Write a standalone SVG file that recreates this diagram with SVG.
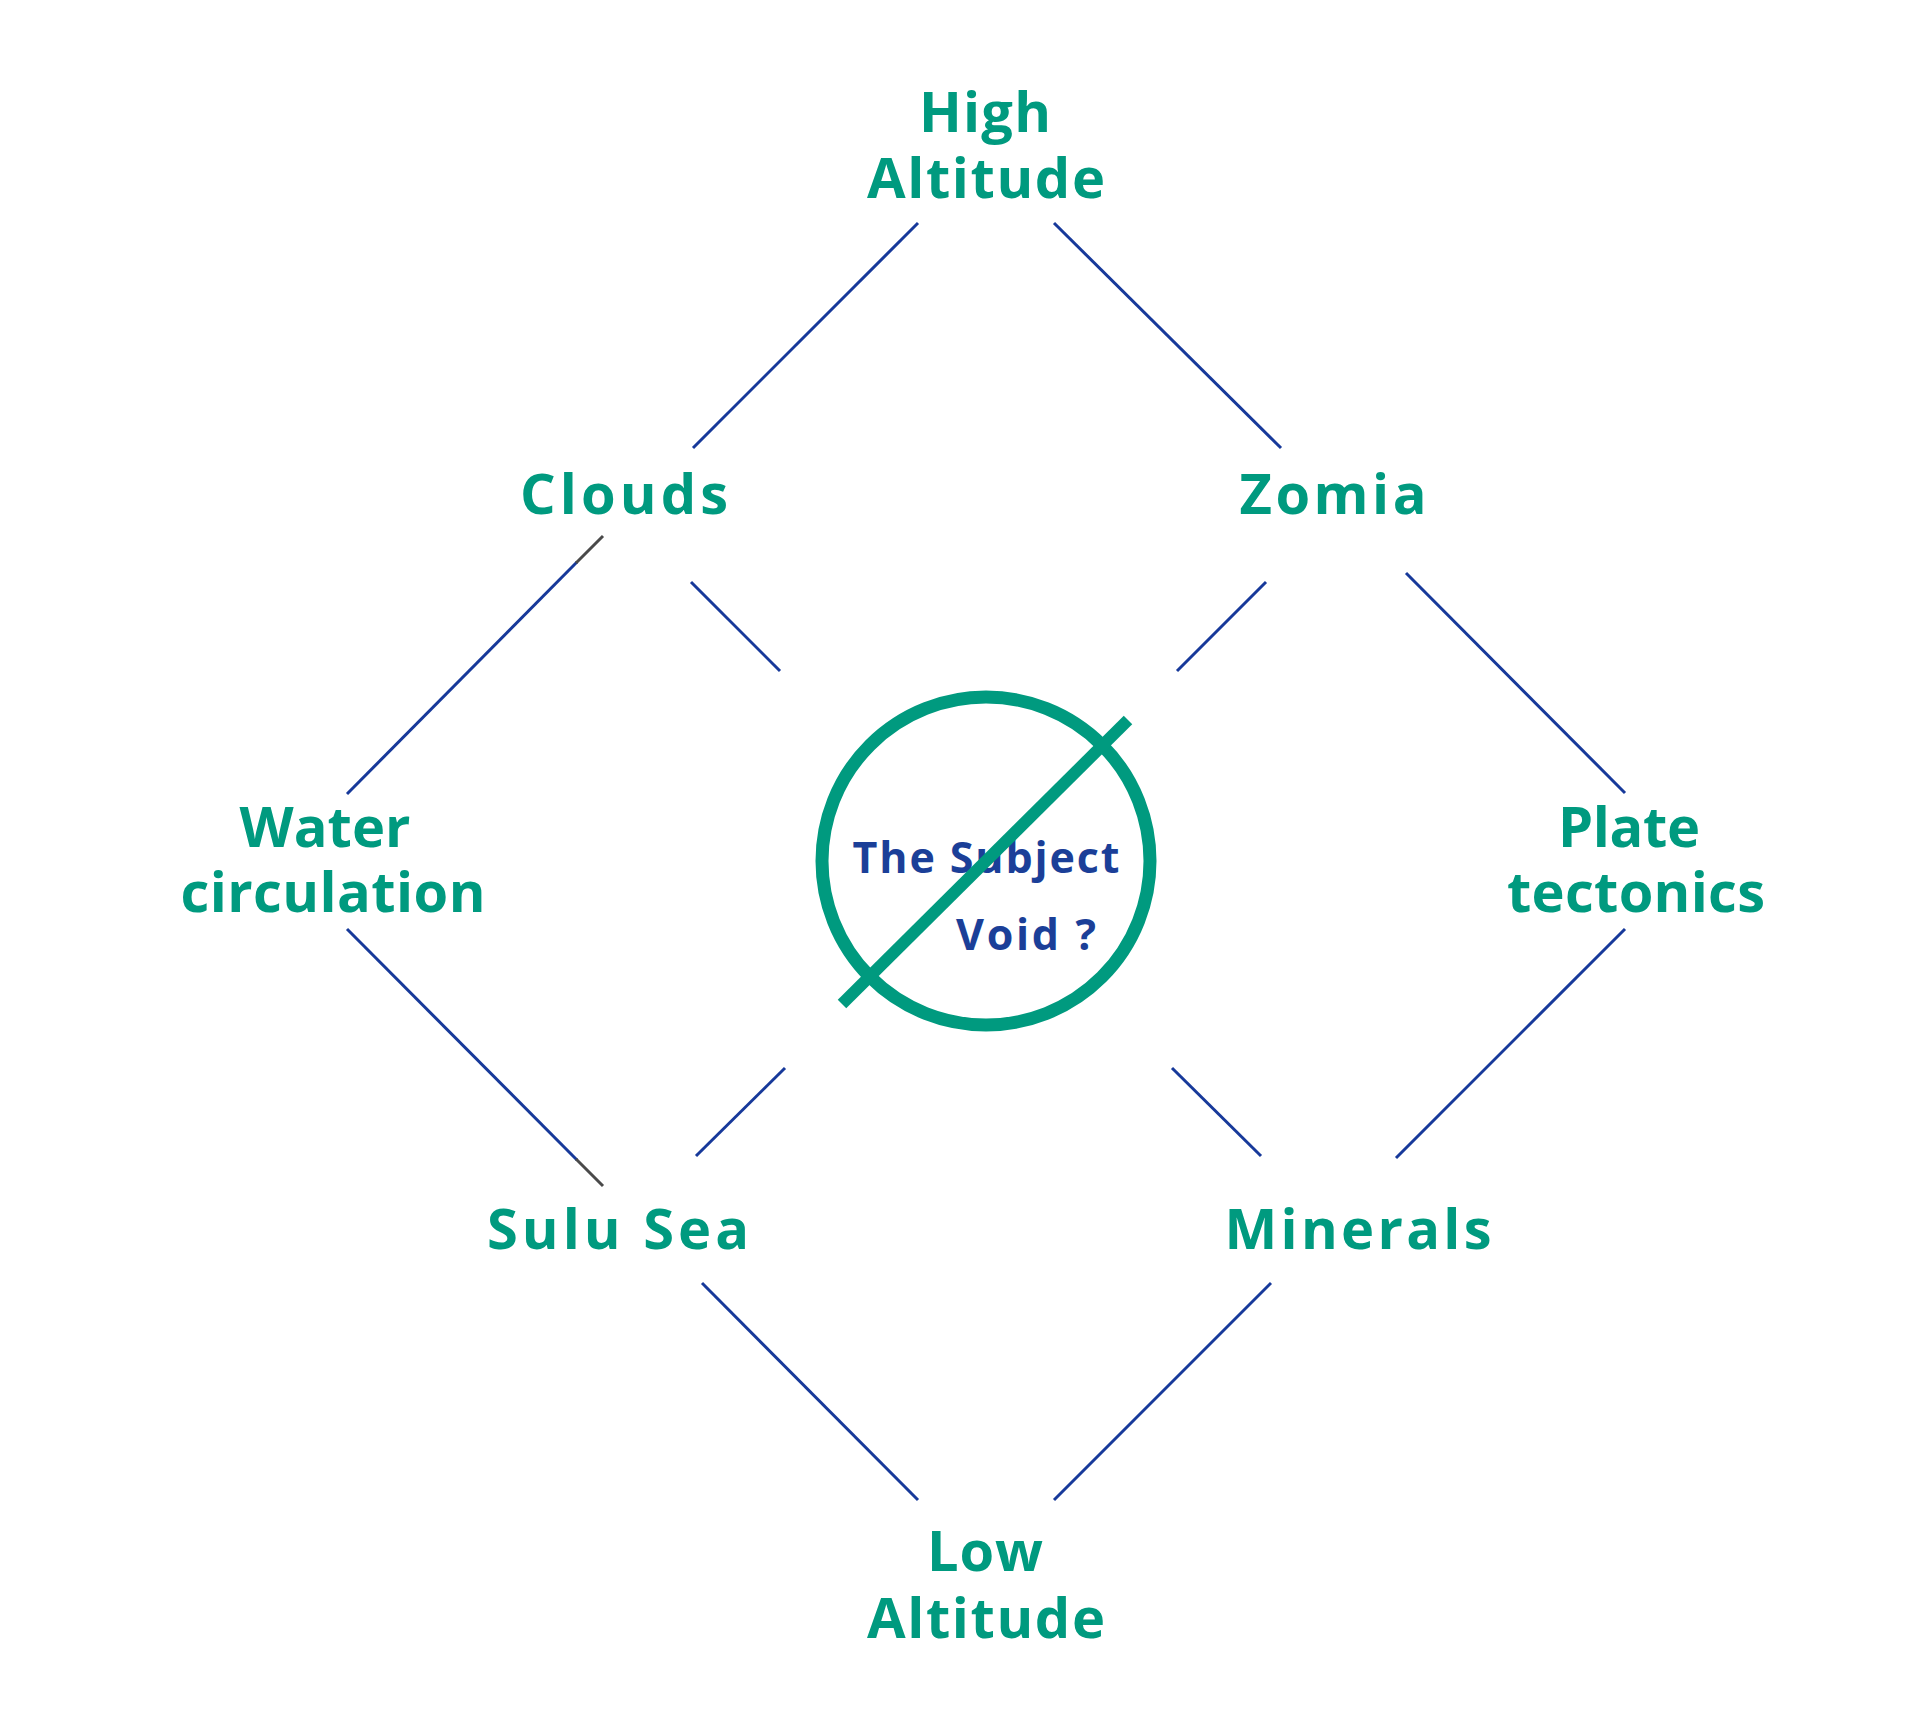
<svg xmlns="http://www.w3.org/2000/svg" width="1920" height="1727" viewBox="0 0 1920 1727">
<style>
.lbl{font-family:"Open Sans","Noto Sans","Liberation Sans",sans-serif;font-weight:700;font-size:56px;fill:#009a7f;text-anchor:middle}
.sub{font-family:"Open Sans","Noto Sans","Liberation Sans",sans-serif;font-weight:700;font-size:43px;fill:#1b3f98;text-anchor:middle}
.c{stroke:#17399a;stroke-width:3;fill:none}
.g{stroke:#4a4a4a;stroke-width:3;fill:none}
</style>
<rect width="1920" height="1727" fill="#ffffff"/>
<g id="connectors">
<line class="c" x1="918" y1="223" x2="693" y2="448"/>
<line class="c" x1="1054" y1="223" x2="1281" y2="448"/>
<line class="c" x1="577" y1="562" x2="347" y2="794"/>
<line class="g" x1="603" y1="536" x2="576" y2="563"/>
<line class="c" x1="691" y1="582" x2="780" y2="671"/>
<line class="c" x1="1266" y1="582" x2="1177" y2="671"/>
<line class="c" x1="1406" y1="573" x2="1625" y2="793"/>
<line class="c" x1="347" y1="929" x2="577" y2="1160"/>
<line class="g" x1="576" y1="1159" x2="603" y2="1186"/>
<line class="c" x1="1625" y1="929" x2="1396" y2="1158"/>
<line class="c" x1="785" y1="1068" x2="696" y2="1156"/>
<line class="c" x1="1172" y1="1068" x2="1261" y2="1156"/>
<line class="c" x1="702" y1="1283" x2="918" y2="1500"/>
<line class="c" x1="1271" y1="1283" x2="1054" y2="1500"/>
</g>
<g id="high-altitude"><text class="lbl" x="985" y="132" textLength="132" lengthAdjust="spacing">High</text><text class="lbl" x="986" y="198" textLength="238" lengthAdjust="spacing">Altitude</text></g>
<g id="clouds"><text class="lbl" x="624" y="514" textLength="208" lengthAdjust="spacing">Clouds</text></g>
<g id="zomia"><text class="lbl" x="1333" y="514" textLength="187" lengthAdjust="spacing">Zomia</text></g>
<g id="water-circulation"><text class="lbl" x="325" y="847" textLength="171" lengthAdjust="spacing">Water</text><text class="lbl" x="333" y="912" textLength="305" lengthAdjust="spacing">circulation</text></g>
<g id="plate-tectonics"><text class="lbl" x="1629" y="847" textLength="142" lengthAdjust="spacing">Plate</text><text class="lbl" x="1636" y="912" textLength="258" lengthAdjust="spacing">tectonics</text></g>
<g id="sulu-sea"><text class="lbl" x="618" y="1249" textLength="262" lengthAdjust="spacing">Sulu Sea</text></g>
<g id="minerals"><text class="lbl" x="1358" y="1249" textLength="267" lengthAdjust="spacing">Minerals</text></g>
<g id="low-altitude"><text class="lbl" x="985" y="1571" textLength="116" lengthAdjust="spacing">Low</text><text class="lbl" x="986" y="1638" textLength="238" lengthAdjust="spacing">Altitude</text></g>
<g id="subject">
<text class="sub" x="986" y="873" textLength="267" lengthAdjust="spacing">The Subject</text>
<text class="sub" x="1026" y="950" textLength="140" lengthAdjust="spacing">Void ?</text>
<circle cx="986" cy="861" r="164" fill="none" stroke="#009a7f" stroke-width="13"/>
<line x1="842" y1="1004" x2="1128" y2="720" stroke="#009a7f" stroke-width="12"/>
</g>
</svg>
